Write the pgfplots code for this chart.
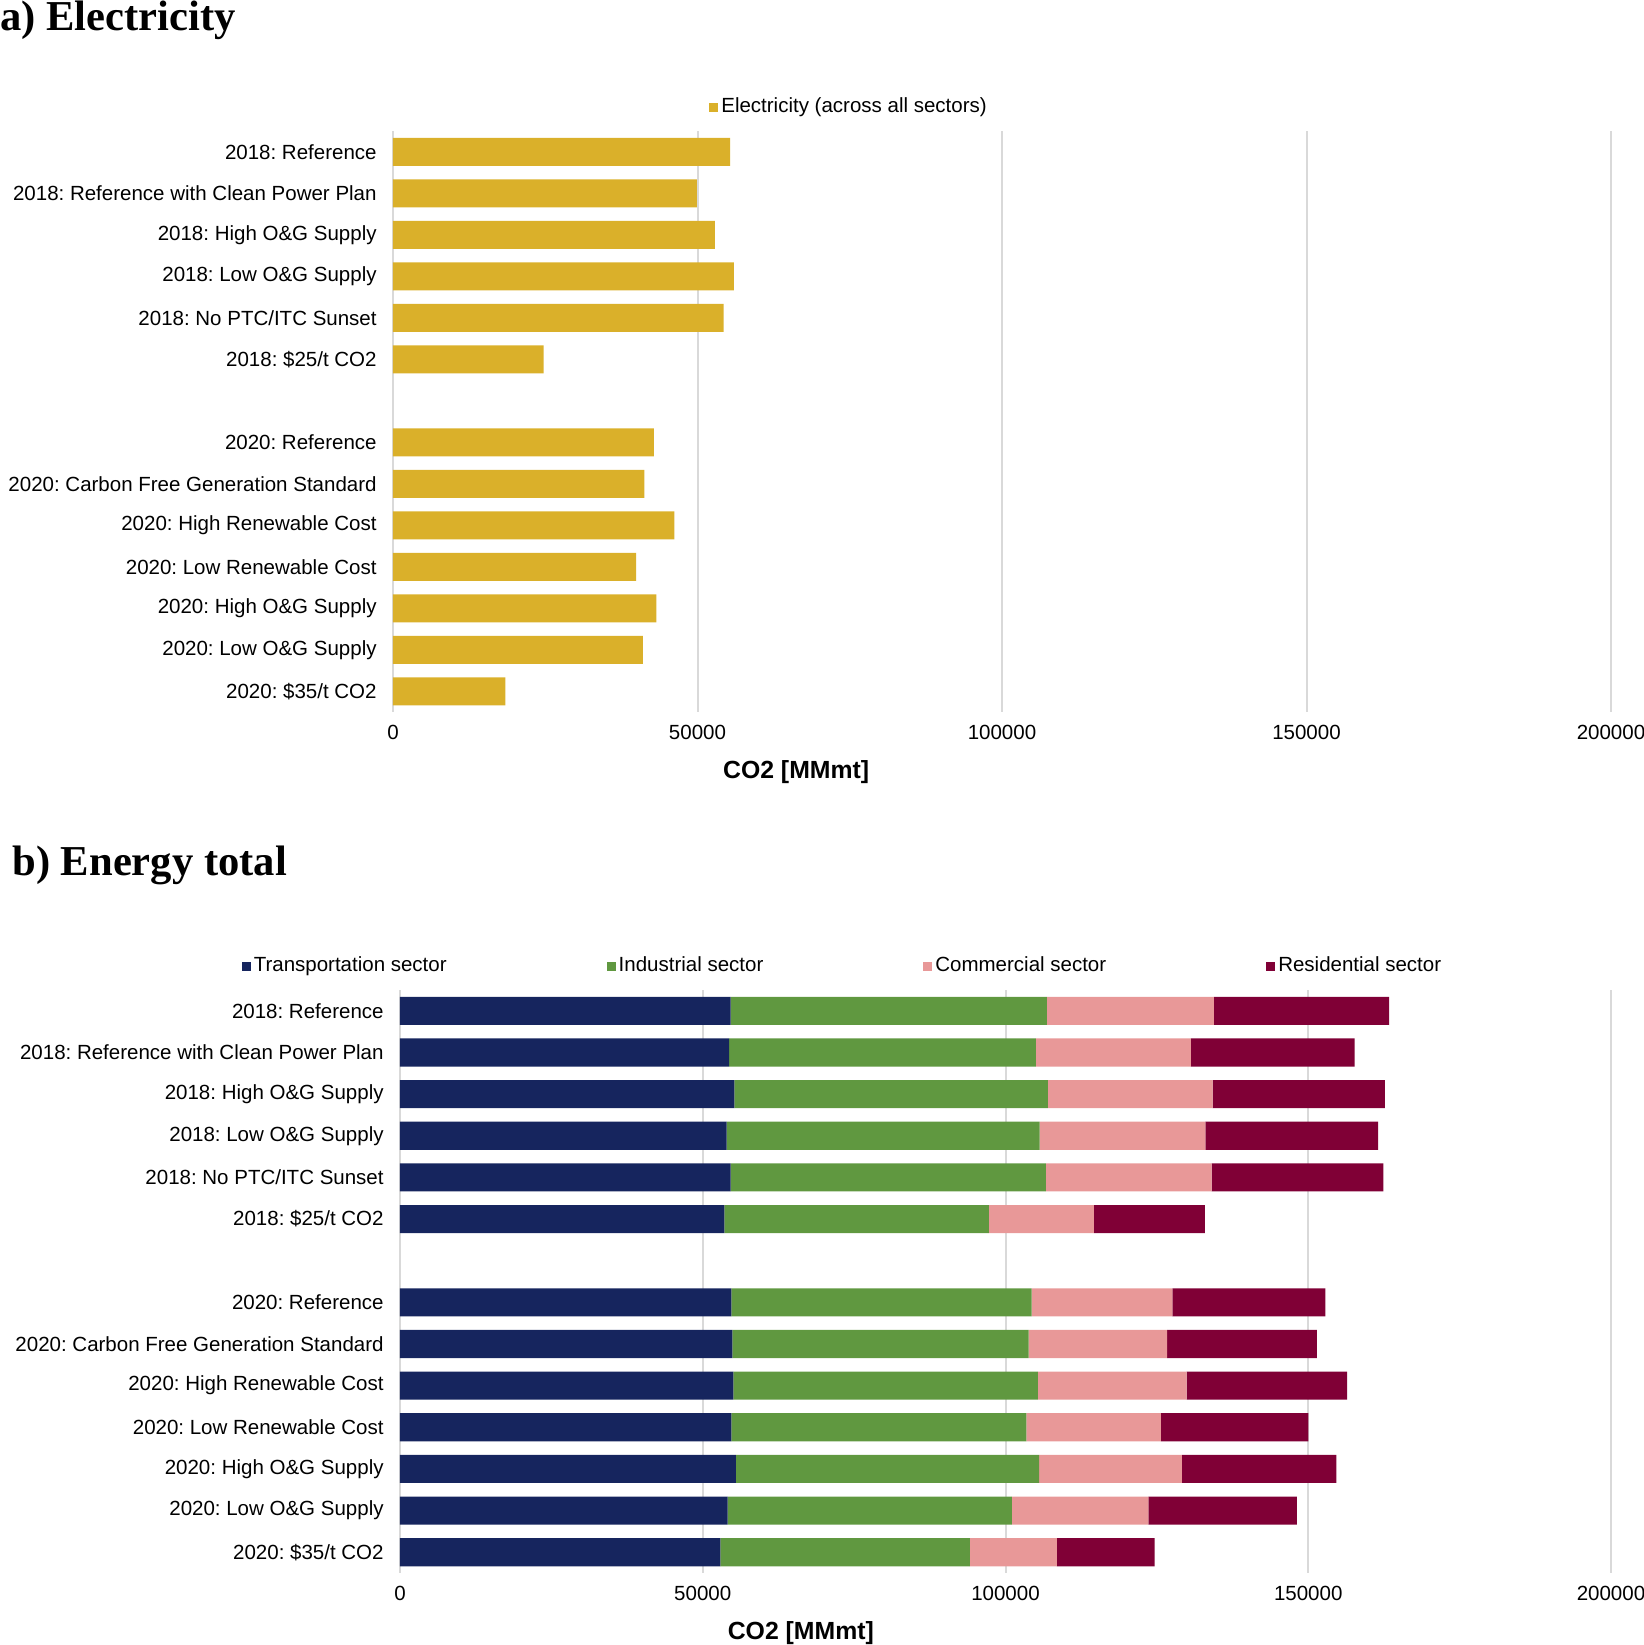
\documentclass[border=0pt]{standalone}
\usepackage{fontspec}
\setmainfont{Liberation Sans}
\newfontfamily\titlefont{Liberation Serif}
\usepackage{pgfplots}
\usepackage{pgfplotstable}
\pgfplotsset{compat=1.18}

\definecolor{elec}{HTML}{DAB02A}
\definecolor{trans}{HTML}{16255E}
\definecolor{indus}{HTML}{609840}
\definecolor{comm}{HTML}{E89898}
\definecolor{resid}{HTML}{800036}
\definecolor{gridgray}{HTML}{D9D9D9}

% electricity, row index -> CO2
\pgfplotstableread{
y val
0 55369
1 49900
2 52852
3 55956
4 54279
5 24748
7 42826
8 41292
9 46221
10 39923
11 43264
12 41018
13 18456
}\electable

% energy total by sector
\pgfplotstableread{
y trans ind com res
0 54585 52253 27589 28933
1 54348 50671 25613 27036
2 55217 51779 27194 28458
3 53953 51699 27352 28537
4 54585 52095 27352 28379
5 53557 43716 17312 18340
7 54743 49564 23241 25296
8 54901 48932 22847 24742
9 55059 50276 24585 26482
10 54743 48695 22213 24349
11 55454 50118 23558 25534
12 54111 46956 22530 24505
13 52925 41186 14386 16126
}\energytable

\pgfplotsset{
  co2/.style={
    scale only axis,
    xmin=0, xmax=200000, ymin=-0.5, ymax=13.5, y dir=reverse,
    xtick={0,50000,100000,150000,200000},
    ytick={0,1,2,3,4,5,7,8,9,10,11,12,13},
    yticklabels={2018: Reference, 2018: Reference with Clean Power Plan,
      2018: High O\&G Supply, 2018: Low O\&G Supply, 2018: No PTC/ITC Sunset,
      2018: \$25/t CO2, 2020: Reference, 2020: Carbon Free Generation Standard,
      2020: High Renewable Cost, 2020: Low Renewable Cost, 2020: High O\&G Supply,
      2020: Low O\&G Supply, 2020: \$35/t CO2},
    xmajorgrids, ymajorgrids=false,
    major grid style={draw=gridgray, line width=1pt},
    axis line style={draw=none}, tick style={draw=none}, major tick length=0pt,
    scaled x ticks=false,
    /pgf/number format/fixed,
    /pgf/number format/set thousands separator={},
    /pgf/number format/assume math mode=true,
    tick label style={font=\frenchspacing\fontsize{10.25}{12}\selectfont},
    yticklabel style={inner sep=0pt, xshift=-8pt},
    xticklabel style={inner sep=0pt, yshift=-6.3pt},
    bar width=0.675,
    xlabel={CO2 [MMmt]},
    xlabel style={font=\fontsize{12.4}{14}\selectfont\bfseries,
      at={(axis description cs:0.331,0)}, anchor=center, yshift=-30pt},
    legend style={draw=none, fill=none, inner sep=0pt,
      font=\fontsize{10.25}{12}\selectfont,
      nodes={inner xsep=1.5pt, inner ysep=0pt},
      /tikz/every even column/.append style={column sep=78.5pt}},
  },
  sqlegend/.style={
    legend image code/.code={\fill[##1,draw=none] (0pt,-2.25pt) rectangle (4.5pt,2.25pt);}},
}

\begin{document}
\begin{tikzpicture}
\node[anchor=base west, inner sep=0pt,
  font=\titlefont\bfseries\fontsize{21.3}{24}\selectfont] at (0pt,-15pt) {a) Electricity};
\node[anchor=base west, inner sep=0pt,
  font=\titlefont\bfseries\fontsize{21.3}{24}\selectfont] at (6pt,-437.5pt) {b) Energy total};

\begin{axis}[co2, at={(196.5pt,-65.5pt)}, anchor=north west,
  width=609pt, height=290.5pt, xbar, sqlegend,
  legend style={at={(axis description cs:0.2594,1)}, anchor=west, yshift=12pt}]
  \addplot[fill=elec, draw=none] table[x=val, y=y] {\electable};
  \addlegendentry{Electricity (across all sectors)}
\end{axis}

\begin{axis}[co2, at={(200pt,-495pt)}, anchor=north west,
  width=605.5pt, height=291.5pt, xbar stacked, sqlegend,
  legend columns=4,
  legend style={at={(axis description cs:-0.131,1)}, anchor=west, yshift=12pt}]
  \addplot[fill=trans, draw=none] table[x=trans, y=y] {\energytable};
  \addplot[fill=indus, draw=none] table[x=ind, y=y] {\energytable};
  \addplot[fill=comm, draw=none] table[x=com, y=y] {\energytable};
  \addplot[fill=resid, draw=none] table[x=res, y=y] {\energytable};
  \legend{Transportation sector, Industrial sector, Commercial sector, Residential sector}
\end{axis}

\pgfresetboundingbox
\path[use as bounding box] (0pt,0pt) rectangle (822pt,-822.5pt);
\end{tikzpicture}
\end{document}
